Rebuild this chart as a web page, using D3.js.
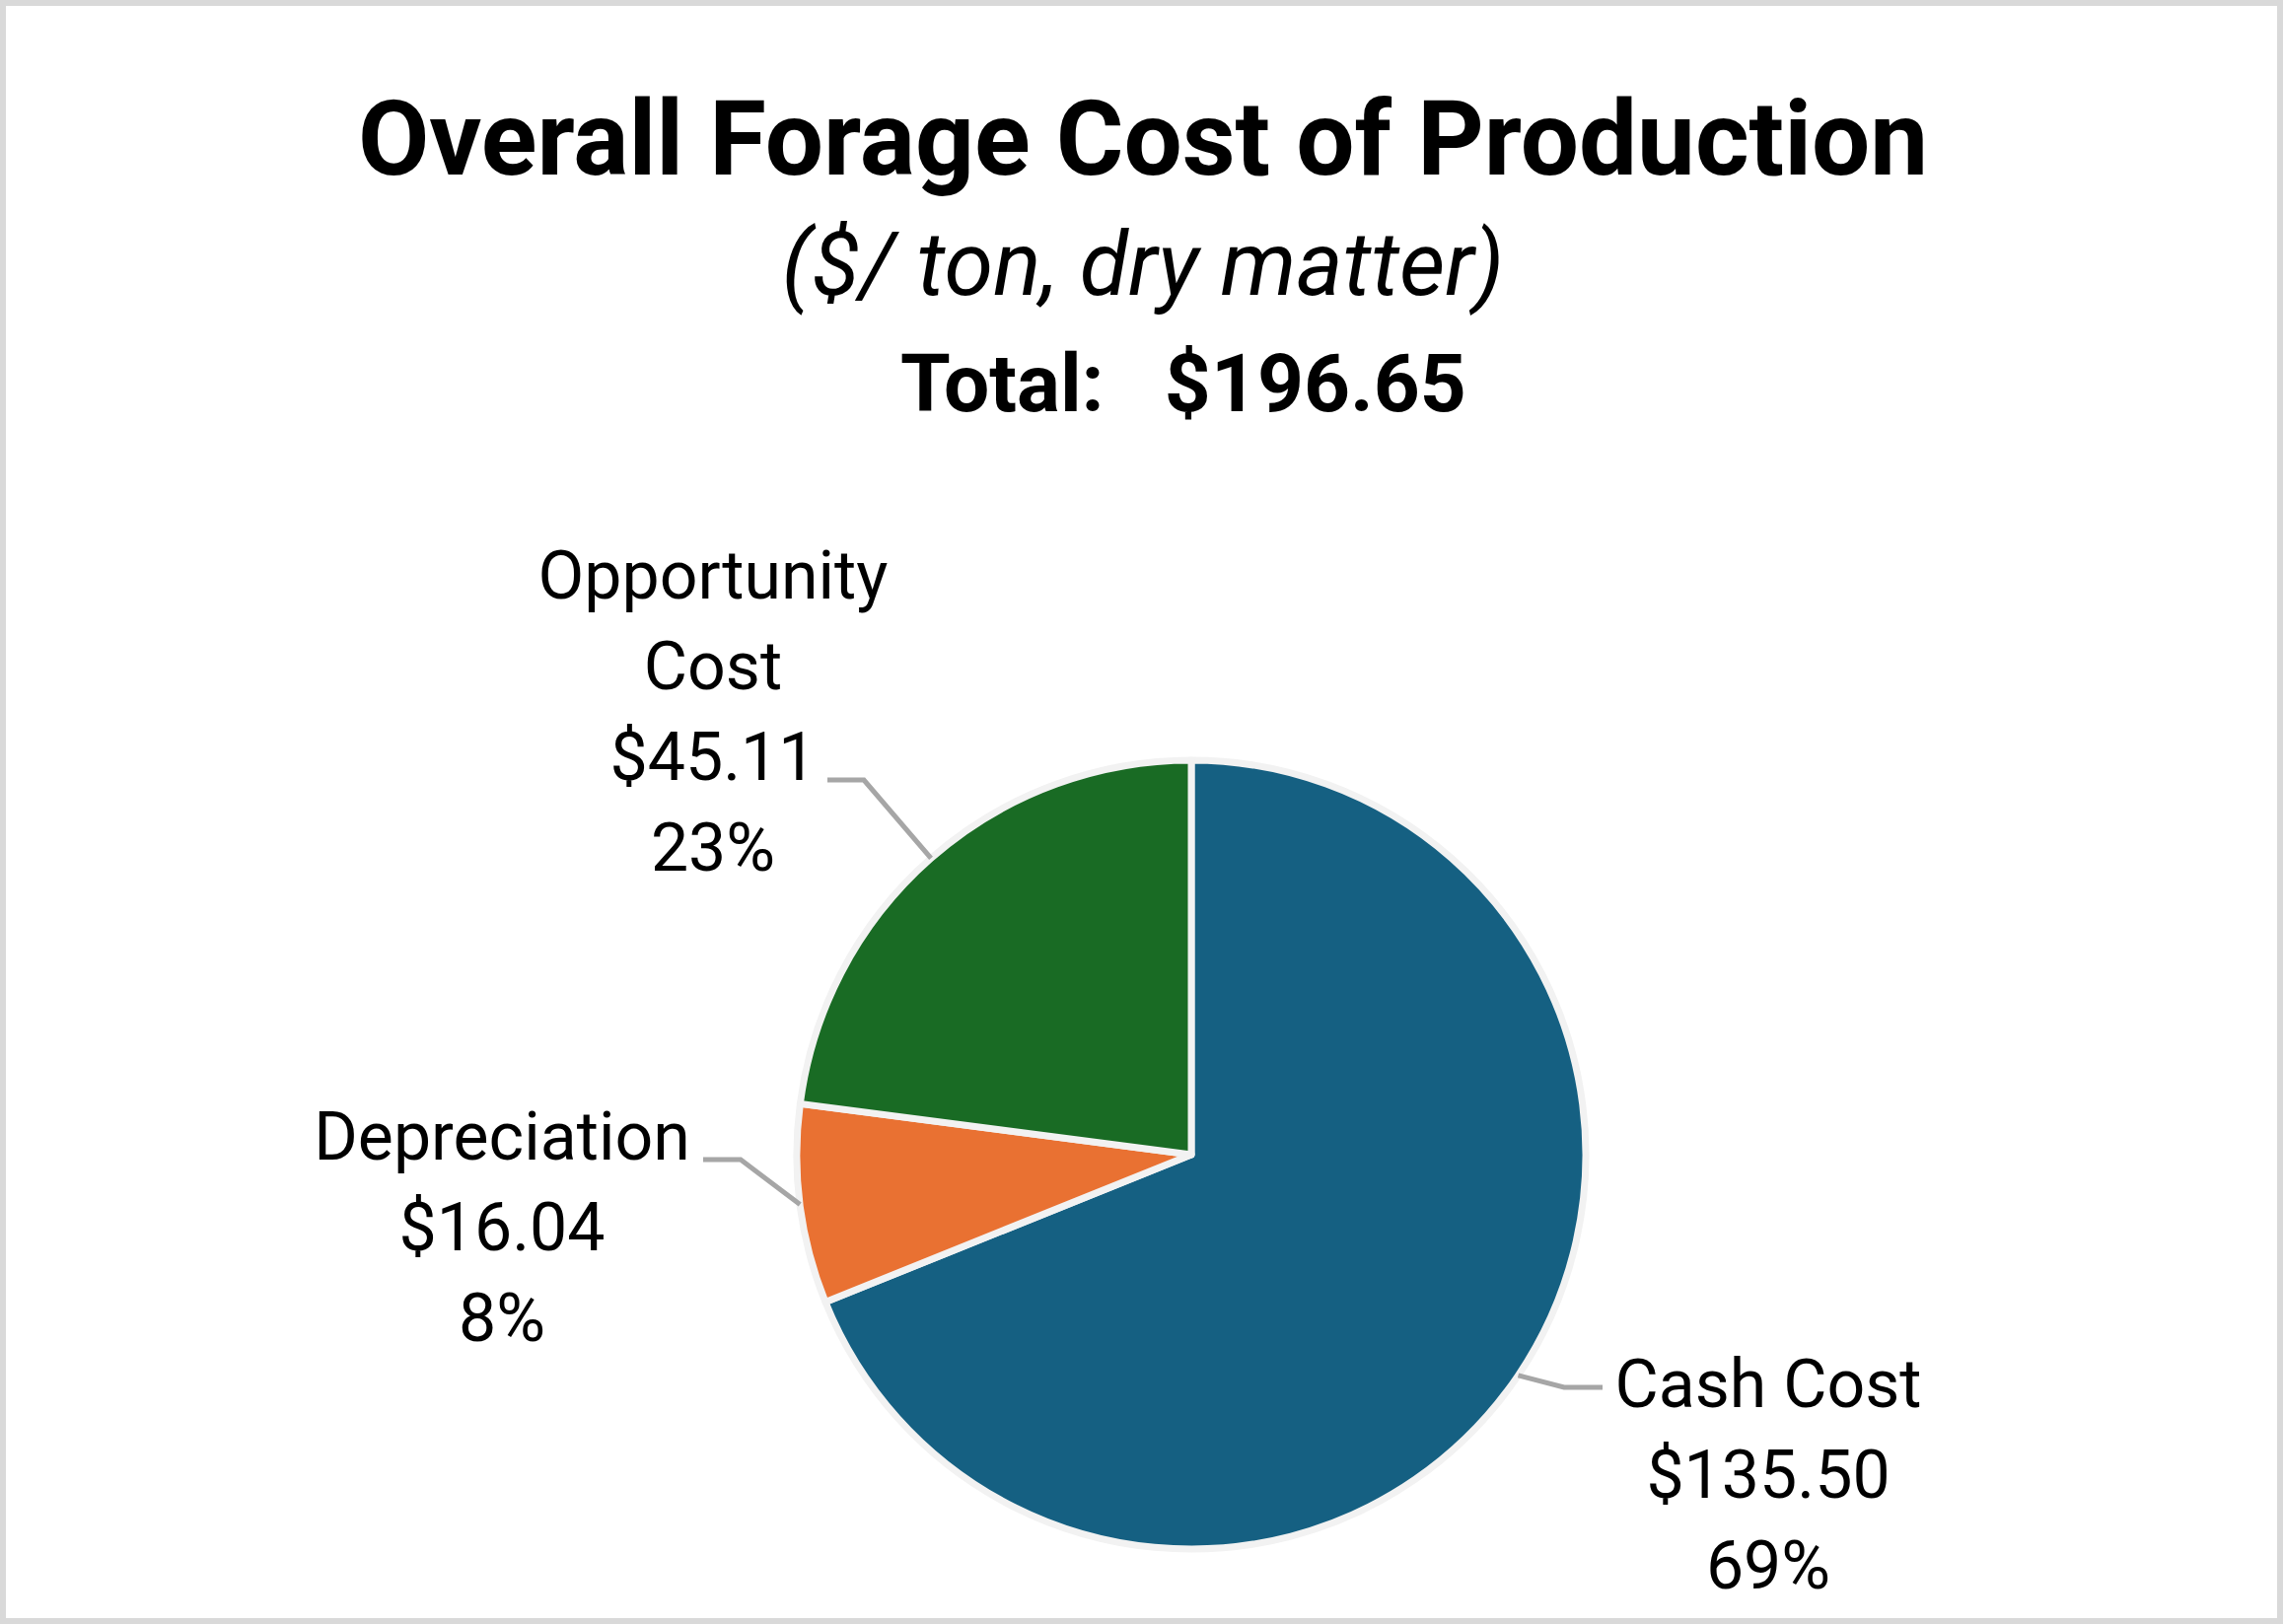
<!DOCTYPE html>
<html>
<head>
<meta charset="utf-8">
<script src="https://cdn.jsdelivr.net/npm/d3@7"></script>
<style>
  body { margin: 0; background: #fff; }
  text { font-family: Roboto, "Liberation Sans", sans-serif; fill: #000; }
</style>
</head>
<body>
<svg width="2315" height="1647"></svg>
<script>
// Data
const categories = ["Cash Cost", "Depreciation", "Opportunity Cost"];
const values = [135.50, 16.04, 45.11];
const colors = ["#156082", "#E97132", "#196B24"];
const titleText = "Overall Forage Cost of Production";
const subtitleText = "($/ ton, dry matter)";
const totalText = "Total:   $196.65";

// label layout (wrapped names, label centre, first baseline, leader elbow)
const labelLines = [["Cash Cost"], ["Depreciation"], ["Opportunity", "Cost"]];
const labelX = [1793, 509, 723];
const labelY = [1427, 1176, 607];
const elbowX = [1586, 751, 876];
const elbowY = [1407, 1176, 791];
const lineStartX = [1625, 713, 839];

const svg = d3.select("svg"),
  width = +svg.attr("width"),
  height = +svg.attr("height");

// frame
svg.append("rect")
  .attr("x", 3).attr("y", 3)
  .attr("width", width - 6).attr("height", height - 6)
  .attr("fill", "#fff")
  .attr("stroke", "#d9d9d9")
  .attr("stroke-width", 6);

// titles
svg.append("text")
  .attr("x", 1159).attr("y", 177)
  .attr("text-anchor", "middle")
  .style("font-size", "105px").style("font-weight", "bold")
  .text(titleText);

svg.append("text")
  .attr("x", 1159).attr("y", 299)
  .attr("text-anchor", "middle")
  .style("font-size", "90px").style("font-style", "italic")
  .text(subtitleText);

svg.append("text")
  .attr("x", 1200).attr("y", 417)
  .attr("text-anchor", "middle")
  .style("font-size", "82px").style("font-weight", "bold")
  .style("white-space", "pre")
  .text(totalText);

// pie
const cx = 1208, cy = 1171, radius = 400;
const total = d3.sum(values);
const pct = d3.format(".0%");
const money = d3.format("$.2f");

const pie = d3.pie().sort(null).value(d => d);
const arcs = pie(values);
const arc = d3.arc().innerRadius(0).outerRadius(radius);

const g = svg.append("g").attr("transform", `translate(${cx},${cy})`);

g.selectAll("path")
  .data(arcs)
  .enter()
  .append("path")
  .attr("d", arc)
  .attr("fill", (d, i) => colors[i])
  .attr("stroke", "#f2f2f2")
  .attr("stroke-width", 7)
  .attr("stroke-linejoin", "round");

// leader lines, from the label to the middle of each slice's rim
arcs.forEach((d, i) => {
  const p = d3.pointRadial((d.startAngle + d.endAngle) / 2, radius);
  const pts = [[lineStartX[i], elbowY[i]], [elbowX[i], elbowY[i]], [cx + p[0], cy + p[1]]];
  svg.append("path")
    .attr("d", d3.line()(pts))
    .attr("fill", "none")
    .attr("stroke", "#a6a6a6")
    .attr("stroke-width", 5);
});

// data labels
const lineGap = 92;
arcs.forEach((d, i) => {
  const lines = labelLines[i].concat([money(values[i]), pct(values[i] / total)]);
  const t = svg.append("text")
    .attr("text-anchor", "middle")
    .style("font-size", "68px");
  lines.forEach((s, j) => {
    t.append("tspan")
      .attr("x", labelX[i])
      .attr("y", labelY[i] + j * lineGap)
      .text(s);
  });
});
</script>
</body>
</html>
